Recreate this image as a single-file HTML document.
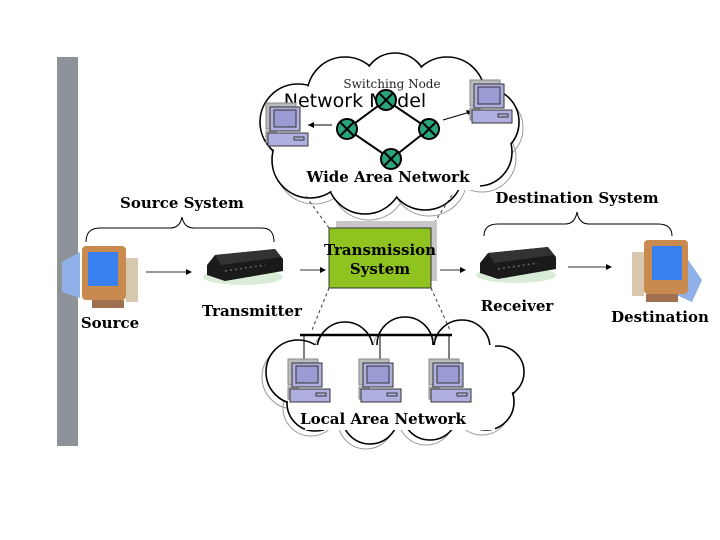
<!DOCTYPE html>
<html><head><style>
html,body{margin:0;padding:0;background:#fff;}
svg{display:block}
.b{font-family:"DejaVu Serif","Liberation Serif",serif;font-weight:bold;font-size:15px;fill:#000}
</style></head><body>
<svg width="720" height="540" viewBox="0 0 720 540" xmlns="http://www.w3.org/2000/svg">
<defs>
<g id="pc">
 <rect x="-4" y="-4" width="30" height="26" fill="#bbb" stroke="#888"/>
 <rect x="-4" y="24" width="10" height="12" fill="#bbb" stroke="#888"/>
 <rect x="0" y="0" width="30" height="24" fill="#b0b0e0" stroke="#333"/>
 <rect x="4" y="3" width="22" height="17" fill="#9c9cd4" stroke="#333"/>
 <rect x="-2" y="26" width="40" height="13" fill="#b0b0e0" stroke="#333"/>
 <rect x="24" y="30" width="10" height="3" fill="none" stroke="#333"/>
</g>
<g id="node">
 <circle r="10" fill="#2aa47a" stroke="#000" stroke-width="2"/>
 <path d="M-7,-7L7,7M7,-7L-7,7" stroke="#000" stroke-width="2"/>
</g>
<g id="modem">
 <ellipse cx="38" cy="30" rx="40" ry="8" fill="#d8ecd8"/>
 <path d="M2,18 L10,8 L70,2 L78,12 L78,24 L20,34 L2,28 Z" fill="#1a1a1a"/>
 <path d="M10,8 L70,2 L76,10 L16,18 Z" fill="#333"/>
 <path d="M20,24 L60,18" stroke="#666" stroke-width="1.5" stroke-dasharray="2 3"/>
</g>
<g id="bigpc">
 <rect x="0" y="0" width="44" height="54" rx="4" fill="#c98a50"/>
 <rect x="6" y="6" width="30" height="34" fill="#3a7ff0"/>
 <rect x="44" y="12" width="12" height="44" fill="#d9c8b0"/>
 <rect x="10" y="54" width="32" height="8" fill="#a07050"/>
</g>
</defs>

<rect x="57" y="57" width="21" height="389" fill="#8e9399"/>

<!-- WAN cloud -->
<g stroke="#999" stroke-width="1" fill="none" transform="translate(4,6)">
 <circle cx="298" cy="122" r="38"/><circle cx="345" cy="95" r="38"/><circle cx="395" cy="85" r="32"/><circle cx="447" cy="95" r="38"/><circle cx="485" cy="122" r="34"/><circle cx="478" cy="152" r="34"/><circle cx="425" cy="172" r="38"/><circle cx="365" cy="176" r="38"/><circle cx="310" cy="160" r="38"/>
</g>
<g stroke="#000" stroke-width="1.6" fill="#fff">
 <circle cx="298" cy="122" r="38"/><circle cx="345" cy="95" r="38"/><circle cx="395" cy="85" r="32"/><circle cx="447" cy="95" r="38"/><circle cx="485" cy="122" r="34"/><circle cx="478" cy="152" r="34"/><circle cx="425" cy="172" r="38"/><circle cx="365" cy="176" r="38"/><circle cx="310" cy="160" r="38"/>
</g>
<g fill="#fff">
 <circle cx="298" cy="122" r="37"/><circle cx="345" cy="95" r="37"/><circle cx="395" cy="85" r="31"/><circle cx="447" cy="95" r="37"/><circle cx="485" cy="122" r="33"/><circle cx="478" cy="152" r="33"/><circle cx="425" cy="172" r="37"/><circle cx="365" cy="176" r="37"/><circle cx="310" cy="160" r="37"/>
 <rect x="300" y="95" width="180" height="95"/>
</g>

<!-- LAN cloud -->
<g stroke="#999" fill="none" transform="translate(-4,5)">
 <circle cx="298" cy="372" r="32"/><circle cx="345" cy="350" r="28"/><circle cx="405" cy="345" r="28"/><circle cx="462" cy="348" r="28"/><circle cx="498" cy="372" r="26"/><circle cx="486" cy="402" r="28"/><circle cx="430" cy="412" r="28"/><circle cx="370" cy="416" r="28"/><circle cx="315" cy="403" r="28"/>
</g>
<g stroke="#000" stroke-width="1.6" fill="#fff">
 <circle cx="298" cy="372" r="32"/><circle cx="345" cy="350" r="28"/><circle cx="405" cy="345" r="28"/><circle cx="462" cy="348" r="28"/><circle cx="498" cy="372" r="26"/><circle cx="486" cy="402" r="28"/><circle cx="430" cy="412" r="28"/><circle cx="370" cy="416" r="28"/><circle cx="315" cy="403" r="28"/>
</g>
<g fill="#fff">
 <circle cx="298" cy="372" r="31"/><circle cx="345" cy="350" r="27"/><circle cx="405" cy="345" r="27"/><circle cx="462" cy="348" r="27"/><circle cx="498" cy="372" r="25"/><circle cx="486" cy="402" r="27"/><circle cx="430" cy="412" r="27"/><circle cx="370" cy="416" r="27"/><circle cx="315" cy="403" r="27"/>
 <rect x="305" y="345" width="190" height="85"/>
</g>

<!-- dashed connectors -->
<g stroke="#333" stroke-dasharray="3 3" fill="none">
 <path d="M329,228 L305,195"/><path d="M431,228 L452,195"/>
 <path d="M329,288 L312,330"/><path d="M431,288 L450,330"/>
</g>

<!-- WAN contents -->
<text x="392" y="88" font-family="DejaVu Serif,serif" font-size="12" text-anchor="middle" fill="#222">Switching Node</text>
<text x="355" y="107" font-family="DejaVu Sans,Liberation Sans,sans-serif" font-size="19" text-anchor="middle" fill="#000">Network Model</text>
<path d="M386,100 L347,129 L391,159 L429,129 Z" stroke="#000" stroke-width="2" fill="none"/>
<use href="#node" x="386" y="100"/><use href="#node" x="347" y="129"/><use href="#node" x="429" y="129"/><use href="#node" x="391" y="159"/>
<path d="M332,125 L308,125" stroke="#000"/><path d="M308,125 l6,-3 v6z" fill="#000"/>
<path d="M443,120 L470,112" stroke="#000"/><path d="M472,111 l-6,-1 l2,5z" fill="#000"/>
<use href="#pc" x="270" y="107"/>
<use href="#pc" x="474" y="84"/>
<text x="388" y="182" class="b" text-anchor="middle">Wide Area Network</text>

<!-- LAN contents -->
<path d="M300,335 L452,335" stroke="#000" stroke-width="2.5"/>
<path d="M304,335 v30 M380,335 v30 M449,335 v30" stroke="#000"/>
<use href="#pc" x="292" y="363"/><use href="#pc" x="363" y="363"/><use href="#pc" x="433" y="363"/>
<text x="383" y="424" class="b" text-anchor="middle">Local Area Network</text>

<!-- Transmission system -->
<rect x="336" y="221" width="101" height="60" fill="#c8c8c8"/>
<rect x="329" y="228" width="102" height="60" fill="#8fc31f" stroke="#333"/>
<text x="380" y="255" class="b" text-anchor="middle">Transmission</text>
<text x="380" y="274" class="b" text-anchor="middle">System</text>

<!-- Source side -->
<text x="182" y="208" class="b" text-anchor="middle">Source System</text>
<path d="M86,242 Q86,228 100,228 L170,228 Q180,228 182,217 Q184,228 194,228 L262,228 Q274,228 274,242" stroke="#000" fill="none"/>
<path d="M62,262 L80,252 L80,298 L62,292Z" fill="#8fb0e8"/>
<use href="#bigpc" x="82" y="246"/>
<text x="110" y="328" class="b" text-anchor="middle">Source</text>
<path d="M146,272 L188,272" stroke="#333"/><path d="M192,272 l-6,-3 v6z" fill="#000"/>
<use href="#modem" x="205" y="247"/>
<text x="252" y="316" class="b" text-anchor="middle">Transmitter</text>
<path d="M300,270 L322,270" stroke="#333"/><path d="M326,270 l-6,-3 v6z" fill="#000"/>

<!-- Destination side -->
<path d="M440,270 L462,270" stroke="#333"/><path d="M466,270 l-6,-3 v6z" fill="#000"/>
<text x="577" y="203" class="b" text-anchor="middle">Destination System</text>
<path d="M484,236 Q484,224 498,224 L565,224 Q575,224 577,212 Q579,224 589,224 L658,224 Q672,224 672,236" stroke="#000" fill="none"/>
<use href="#modem" x="478" y="245"/>
<text x="517" y="311" class="b" text-anchor="middle">Receiver</text>
<path d="M568,267 L608,267" stroke="#333"/><path d="M612,267 l-6,-3 v6z" fill="#000"/>
<path d="M680,248 L702,280 L692,302 L670,292Z" fill="#8fb0e8"/>
<g transform="translate(688,0) scale(-1,1)"><use href="#bigpc" x="0" y="240"/></g>
<text x="660" y="322" class="b" text-anchor="middle">Destination</text>
</svg>
</body></html>
